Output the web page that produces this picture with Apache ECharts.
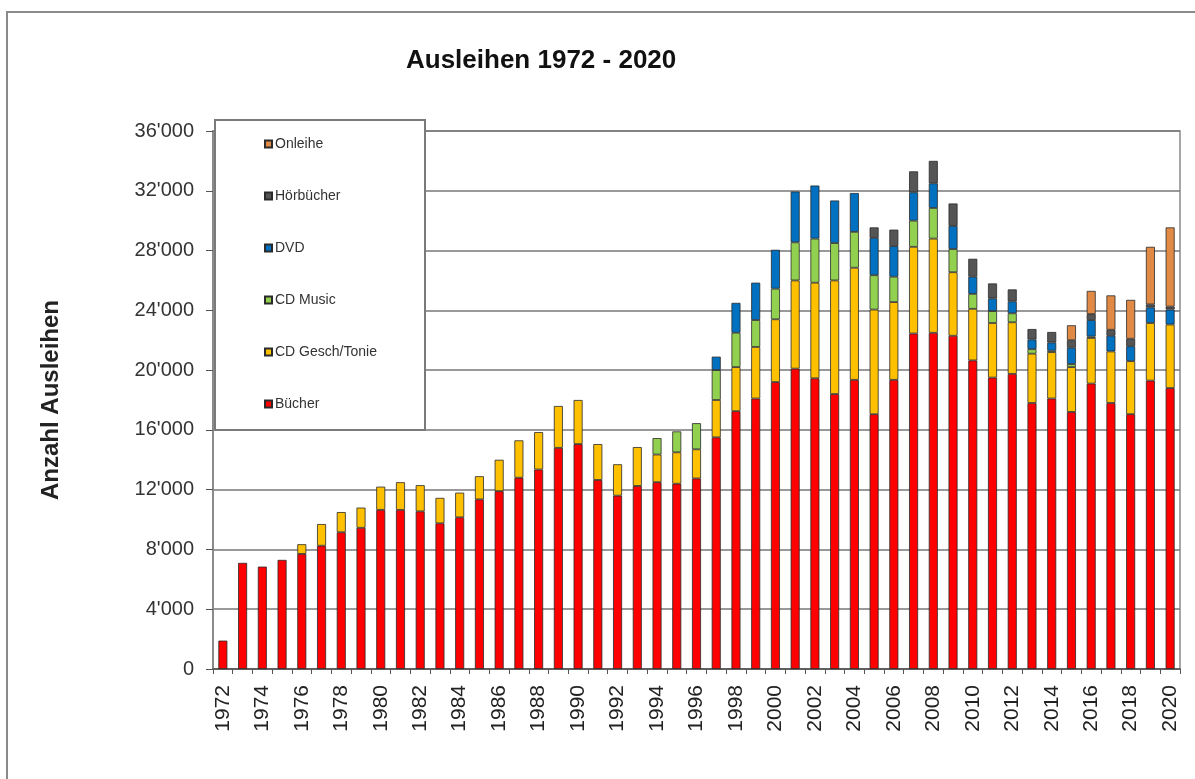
<!DOCTYPE html>
<html>
<head>
<meta charset="utf-8">
<script src="https://cdn.jsdelivr.net/npm/echarts@6/dist/echarts.min.js"></script>
<style>
html,body{margin:0;padding:0;background:#fff;}
#chart{width:1195px;height:779px;}
</style>
</head>
<body>
<div id="chart"></div>
<script>
var years = [];
for (var y = 1972; y <= 2020; y++) years.push(String(y));

var buecher = [1900,7100,6850,7300,7700,8250,9150,9450,10650,10650,10550,9750,10150,11350,11900,12800,13350,14800,15050,12650,11600,12250,12500,12400,12750,15500,17250,18100,19200,20100,19450,18400,19350,17050,19350,22450,22500,22300,20650,19500,19750,17800,18100,17200,19100,17800,17050,19300,18800];
var cdGesch = [null,null,null,null,650,1450,1350,1350,1550,1850,1750,1700,1650,1550,2100,2500,2500,2800,2950,2400,2100,2600,1850,2100,1950,2500,2950,3450,4200,5900,6400,7600,7500,7000,5200,5800,6300,4250,3450,3650,3450,3300,3100,3000,3050,3450,3550,3850,4250];
var cdMusic = [null,null,null,null,null,null,null,null,null,null,null,null,null,null,null,null,null,null,null,null,null,null,1100,1400,1750,2000,2300,1800,2050,2550,2950,2500,2400,2300,1700,1750,2050,1550,1000,800,600,300,100,200,100,null,null,null,null];
var dvd = [null,null,null,null,null,null,null,null,null,null,null,null,null,null,null,null,null,null,null,null,null,null,null,null,null,900,2000,2500,2600,3400,3550,2850,2600,2500,2050,1900,1650,1550,1150,850,800,650,550,1100,1100,1050,1000,1050,1000];
var hoerbuecher = [null,null,null,null,null,null,null,null,null,null,null,null,null,null,null,null,null,null,null,null,null,null,null,null,null,null,null,null,null,null,null,null,null,700,1100,1400,1500,1500,1200,1000,800,700,700,500,400,400,500,200,200];
var onleihe = [null,null,null,null,null,null,null,null,null,null,null,null,null,null,null,null,null,null,null,null,null,null,null,null,null,null,null,null,null,null,null,null,null,null,null,null,null,null,null,null,null,null,null,1000,1550,2300,2600,3850,5300];

var seriesNames = ['Bücher','CD Gesch/Tonie','CD Music','DVD','Hörbücher','Onleihe'];
var seriesData = [buecher, cdGesch, cdMusic, dvd, hoerbuecher, onleihe];
var seriesColors = ['#FF0000','#FFC000','#92D050','#0070C0','#555555','#E08A46'];

var chart = echarts.init(document.getElementById('chart'));
var series = seriesNames.map(function (n, i) {
  return {
    name: n, type: 'bar', stack: 'total', data: seriesData[i], barWidth: 9,
    itemStyle: {color: seriesColors[i], borderColor: '#2a2a2a', borderWidth: 0.8}
  };
});

function fmt(v) {
  if (v === 0) return '0';
  var s = String(v);
  return s.slice(0, s.length - 3) + "'" + s.slice(s.length - 3);
}

chart.setOption({
  animation: false,
  backgroundColor: '#fff',
  title: {
    text: 'Ausleihen 1972 - 2020', left: 401, top: 43,
    textStyle: {fontFamily: 'Liberation Sans', fontSize: 26, fontWeight: 'bold', color: '#111'}
  },
  graphic: [
    {type: 'rect', shape: {x: 7, y: 12, width: 1300, height: 900}, style: {fill: 'none', stroke: '#8a8a8a', lineWidth: 2}, z: 1, silent: true},
    {type: 'rect', shape: {x: 215, y: 120, width: 210, height: 310}, style: {fill: '#fff', stroke: '#7a7a7a', lineWidth: 2}, z: 5, silent: true}
  ],
  legend: {
    data: ['Onleihe','Hörbücher','DVD','CD Music','CD Gesch/Tonie','Bücher'],
    orient: 'vertical', left: 264, top: 137, padding: 0, z: 10,
    itemWidth: 7, itemHeight: 7, itemGap: 38, icon: 'rect',
    textStyle: {fontFamily: 'Liberation Sans', fontSize: 14, color: '#333', lineHeight: 14, padding: [0,0,0,-2]}
  },
  grid: {left: 213, right: 15, top: 131, bottom: 110, show: true, borderColor: '#8a8a8a', borderWidth: 1.5},
  xAxis: {
    type: 'category', data: years,
    axisLine: {lineStyle: {color: '#555', width: 1.5}},
    axisTick: {show: true, interval: 0, length: 5, lineStyle: {color: '#555'}},
    axisLabel: {interval: 1, rotate: 90, margin: 16, fontFamily: 'Liberation Sans', fontSize: 21, color: '#222'}
  },
  yAxis: {
    type: 'value', min: 0, max: 36000, interval: 4000,
    name: 'Anzahl Ausleihen', nameLocation: 'middle', nameRotate: 90, nameGap: 150,
    nameTextStyle: {fontFamily: 'Liberation Sans', fontSize: 24, fontWeight: 'bold', color: '#222'},
    axisLine: {show: true, lineStyle: {color: '#8a8a8a', width: 2}},
    axisTick: {show: true, inside: false, length: 7, lineStyle: {color: '#555'}},
    axisLabel: {formatter: fmt, margin: 19, fontFamily: 'Liberation Sans', fontSize: 20, color: '#333'},
    splitLine: {lineStyle: {color: '#777', width: 1.5}}
  },
  series: series
});
</script>
</body>
</html>
